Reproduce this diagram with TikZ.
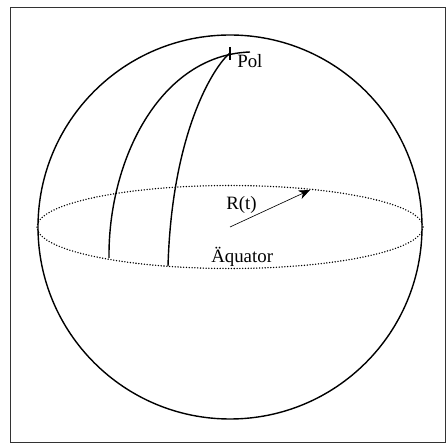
\documentclass[tikz,border=0pt]{standalone}
\usepackage{fontspec}
\setmainfont{Liberation Serif}
\usetikzlibrary{arrows.meta}

\begin{document}
\begin{tikzpicture}[x=0.025cm, y=-0.025cm,
  line/.style={line width=1pt},
  equator/.style={line width=1.1pt, line cap=round, dash pattern=on 0pt off 2pt},
  label/.style={font=\fontsize{13.4}{16}\selectfont, inner sep=0pt},
  arrow/.style={-{Stealth[length=8pt, width=6.5pt, inset=2.5pt]}, line width=0.45pt}
]
\useasboundingbox (0,0) rectangle (448,445);

% Frame and sphere
\draw[line width=0.7pt, black!80] (10,7) rectangle (445,442);
\coordinate (m) at (230,227);
\coordinate (pole) at (230,53);
\draw[line] (m) circle [radius=192];
\draw[equator] (m) ellipse [x radius=193, y radius=41.5];

% Meridians
\draw[line] (109,258) .. controls (108,160) and (160,55) .. (250,52);
\draw[line] (168,266) .. controls (172,130) and (215,65) .. (pole);
\draw[line] (230,47) -- (230,60);

% Labels
\node[label, anchor=base west] (pol) at (237,68) {Pol};
\node[label, anchor=base west] (rt) at (226,210) {R(t)};
\node[label, anchor=base west] (aeq) at (211,263) {Äquator};

% Radius
\coordinate (rtip) at (310,190);
\draw[arrow] (m) -- (rtip);

\end{tikzpicture}
\end{document}
